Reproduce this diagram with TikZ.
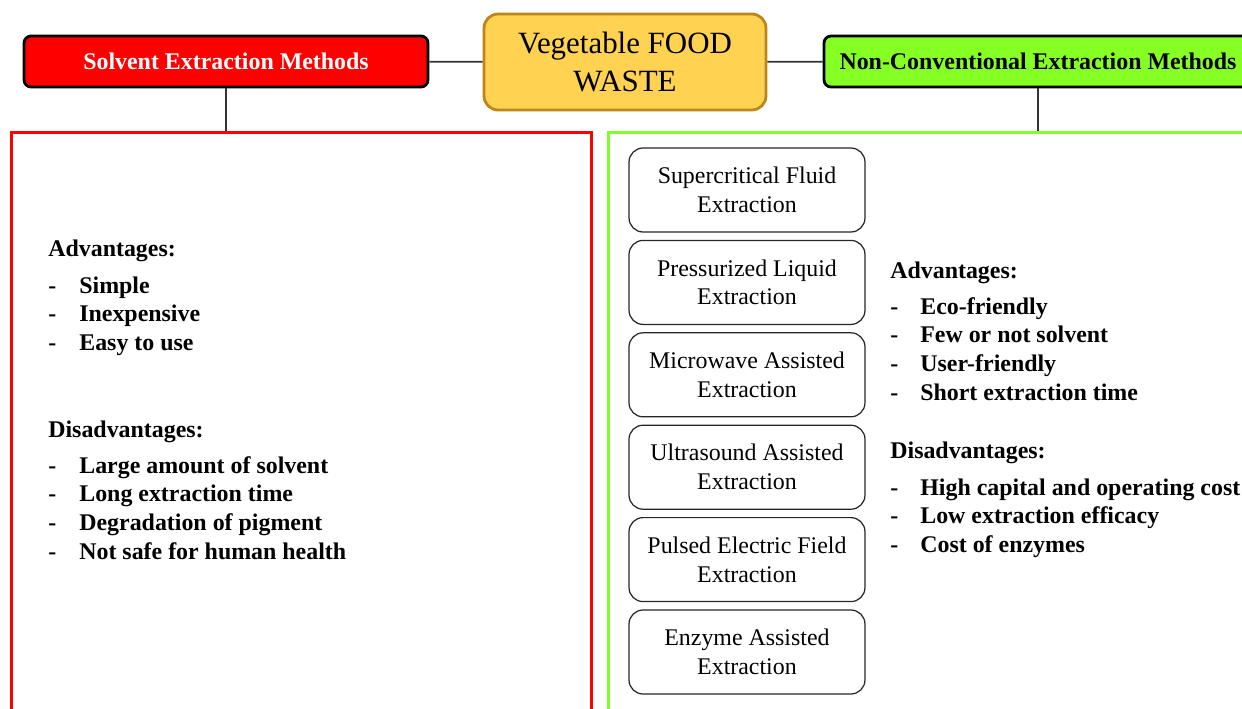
\documentclass[tikz,border=0pt]{standalone}
\usepackage{fontspec}
\setmainfont{Liberation Serif}
\usetikzlibrary{positioning}
\definecolor{wastegold}{RGB}{255,210,82}
\definecolor{wasteedge}{RGB}{188,134,24}
\definecolor{solventred}{RGB}{255,0,0}
\definecolor{ncgreen}{RGB}{133,255,36}
\definecolor{ncline}{RGB}{128,255,48}
\tikzset{
	headbox/.style={draw=black, line width=1.6pt, rounded corners=4pt, minimum height=1.02cm, inner sep=0pt, font=\fontsize{13.6}{16}\selectfont\bfseries},
	panel/.style={line width=1.7pt, minimum height=14cm, anchor=north west, inner sep=0pt},
	methodbox/.style={draw=black!85, line width=0.7pt, rounded corners=8pt, minimum width=4.72cm, minimum height=1.68cm, inner sep=0pt, align=center, font=\fontsize{13.6}{16.4}\selectfont},
	listtext/.style={anchor=base west, inner sep=0pt, font=\fontsize{13.6}{16}\selectfont\bfseries},
	link/.style={line width=1pt, draw=black!80}
}

\begin{document}
\begin{tikzpicture}[x=0.02cm, y=-0.02cm]
			%%%%% FRAME %%%%%
			\useasboundingbox (0,0) rectangle (1242,708);
			\clip (0,0) rectangle (1242,708);
			
			%%%%% HEADERS %%%%%
			\node[draw=wasteedge, fill=wastegold, line width=1.6pt, rounded corners=8pt, minimum width=5.64cm, minimum height=1.92cm, align=center, font=\fontsize{17.6}{21.5}\selectfont] (waste) at (625, 62) {Vegetable FOOD\\WASTE};
			\node[headbox, fill=solventred, text=white, minimum width=8.08cm] (solvent) at (226, 61.5) {Solvent Extraction Methods};
			\node[headbox, fill=ncgreen, minimum width=8.56cm] (noncon) at (1038, 61.5) {Non-Conventional Extraction Methods};
			
			\draw[link] (waste) -- (solvent);
			\draw[link] (waste) -- (noncon);
			
			%%%%% PANELS %%%%%
			\node[panel, draw=solventred, minimum width=11.6cm] (solvpanel) at (10, 131) {};
			\node[panel, draw=ncline, minimum width=13.06cm] (ncpanel) at (607, 131) {};
			
			\draw[link] (solvent.south) -- (solvpanel.north -| solvent.south);
			\draw[link] (noncon.south) -- (ncpanel.north -| noncon.south);
			
			%%%%% SOLVENT LISTS %%%%%
			\node[listtext] (solvadv) at (48, 256) {Advantages:};
			\foreach \txt [count=\i] in {Simple, Inexpensive, Easy to use} {
				\node[listtext] (solvadvdash\i) at (48, 293+28.6*\i-28.6) {-};
				\node[listtext] (solvadv\i) at (79, 293+28.6*\i-28.6) {\txt};
			}
			\node[listtext] (solvdis) at (48, 437) {Disadvantages:};
			\foreach \txt [count=\i] in {Large amount of solvent, Long extraction time, Degradation of pigment, Not safe for human health} {
				\node[listtext] (solvdisdash\i) at (48, 473+28.7*\i-28.7) {-};
				\node[listtext] (solvdis\i) at (79, 473+28.7*\i-28.7) {\txt};
			}
			
			%%%%% METHODS %%%%%
			\foreach \txt [count=\i] in {{Supercritical Fluid\\Extraction}, {Pressurized Liquid\\Extraction}, {Microwave Assisted\\Extraction}, {Ultrasound Assisted\\Extraction}, {Pulsed Electric Field\\Extraction}, {Enzyme Assisted\\Extraction}} {
				\node[methodbox] (method\i) at (747, 190+92.4*\i-92.4) {\txt};
			}
			
			%%%%% NON-CONVENTIONAL LISTS %%%%%
			\node[listtext] (ncadv) at (890, 278) {Advantages:};
			\foreach \txt [count=\i] in {Eco-friendly, Few or not solvent, User-friendly, Short extraction time} {
				\node[listtext] (ncadvdash\i) at (890, 314+28.9*\i-28.9) {-};
				\node[listtext] (ncadv\i) at (920, 314+28.9*\i-28.9) {\txt};
			}
			\node[listtext] (ncdis) at (890, 458) {Disadvantages:};
			\foreach \txt [count=\i] in {High capital and operating cost, Low extraction efficacy, Cost of enzymes} {
				\node[listtext] (ncdisdash\i) at (890, 495+28.7*\i-28.7) {-};
				\node[listtext] (ncdis\i) at (920, 495+28.7*\i-28.7) {\txt};
			}
\end{tikzpicture}
\end{document}
